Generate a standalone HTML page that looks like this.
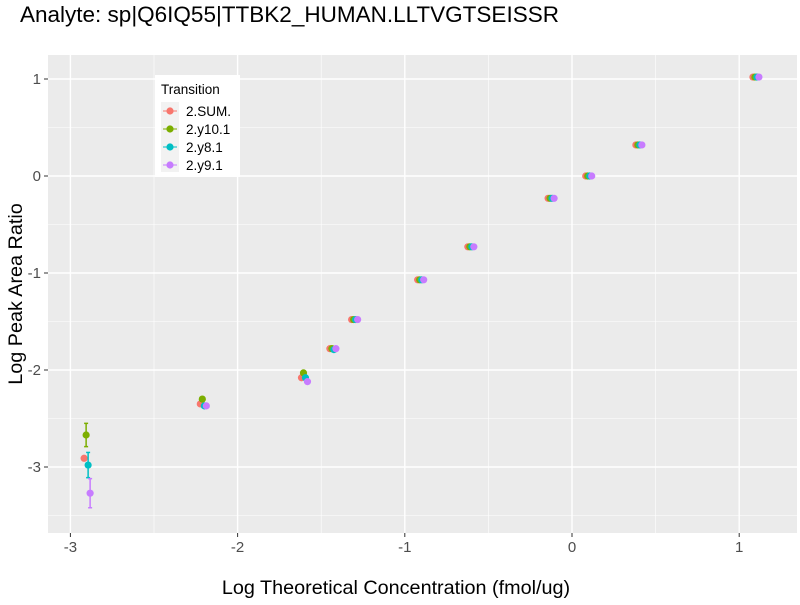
<!DOCTYPE html>
<html><head><meta charset="utf-8"><style>
body{margin:0;background:#fff;font-family:"Liberation Sans",sans-serif}
svg text{font-family:"Liberation Sans",sans-serif}
</style></head><body>
<svg id="chart" width="800" height="600" xmlns="http://www.w3.org/2000/svg">
<text x="20" y="22" font-size="22.5" fill="#000">Analyte: sp|Q6IQ55|TTBK2_HUMAN.LLTVGTSEISSR</text>
<rect x="48" y="55" width="749" height="478" fill="#EBEBEB"/>
<g id="grid"></g>
<g id="axes"></g>
<g id="marks"></g>
<text x="396" y="594" text-anchor="middle" font-size="19.8" fill="#000">Log Theoretical Concentration (fmol/ug)</text>
<text transform="translate(22,294) rotate(-90)" text-anchor="middle" font-size="19.8" fill="#000">Log Peak Area Ratio</text>
<g>
<rect x="155" y="75" width="85" height="102" fill="#fff"/>
<text x="161" y="94" font-size="13.5" fill="#000">Transition</text>
<g id="legend-entries"></g>
</g>
</svg>
<script>
const concentrations=[-2.90,-2.205,-1.60,-1.43,-1.30,-0.905,-0.605,-0.125,0.10,0.40,1.10];
const seriesNames=["2.SUM.","2.y10.1","2.y8.1","2.y9.1"];
const seriesColors=["#F8766D","#7CAE00","#00BFC4","#C77CFF"];
const sumValues=[-2.91,-2.35,-2.08,-1.78,-1.48,-1.07,-0.73,-0.23,0.0,0.32,1.02];
const y10Values=[-2.67,-2.30,-2.03,-1.78,-1.48,-1.07,-0.73,-0.23,0.0,0.32,1.02];
const y8Values=[-2.98,-2.37,-2.08,-1.79,-1.48,-1.07,-0.73,-0.23,0.0,0.32,1.02];
const y9Values=[-3.27,-2.37,-2.12,-1.78,-1.48,-1.07,-0.73,-0.23,0.0,0.32,1.02];
const sumErr=[0,0,0,0,0,0,0,0,0,0,0];
const y10Err=[0.12,0,0,0,0,0,0,0,0,0,0];
const y8Err=[0.13,0,0,0,0,0,0,0,0,0,0];
const y9Err=[0.15,0,0,0,0,0,0,0,0,0,0];
const xTicks=[-3,-2,-1,0,1];
const yTicks=[-3,-2,-1,0,1];
const NS="http://www.w3.org/2000/svg";
function xs(v){return 572+v*167.2;}
function ys(v){return 176-v*97;}
function mk(tag,at,parent){const e=document.createElementNS(NS,tag);for(const k in at)e.setAttribute(k,at[k]);parent.appendChild(e);return e;}
const grid=document.getElementById('grid'),axes=document.getElementById('axes'),marks=document.getElementById('marks');
for(let v=-3.5;v<=1.5;v+=0.5){
  const major=Number.isInteger(v);
  const gx=xs(v);
  if(gx>48&&gx<797){const l=mk('line',{x1:gx,x2:gx,y1:55,y2:533,stroke:'#fff','stroke-width':major?1.4:0.6},grid);
  
  }
  const gy=ys(v);
  if(gy>55&&gy<533){const l=mk('line',{x1:48,x2:797,y1:gy,y2:gy,stroke:'#fff','stroke-width':major?1.4:0.6},grid);
  
  }
}
xTicks.forEach(t=>{
  mk('line',{x1:xs(t),x2:xs(t),y1:533,y2:537,stroke:'#333','stroke-width':1},axes);
  const tx=mk('text',{x:xs(t),y:552,'text-anchor':'middle','font-size':15,fill:'#4D4D4D'},axes);tx.textContent=t;
  
  
});
yTicks.forEach(t=>{
  mk('line',{x1:44,x2:48,y1:ys(t),y2:ys(t),stroke:'#333','stroke-width':1},axes);
  const tx=mk('text',{x:41,y:ys(t)+5,'text-anchor':'end','font-size':15,fill:'#4D4D4D'},axes);tx.textContent=t;
  
  
});
const allVals=[sumValues,y10Values,y8Values,y9Values];
const allErr=[sumErr,y10Err,y8Err,y9Err];
const dodge=[-3,-1,1,3];
allVals.forEach((vals,s)=>{
  vals.forEach((v,i)=>{
    const cx=xs(concentrations[i])+dodge[s];
    const e=allErr[s][i];
    if(e>0){
      const g=mk('g',{stroke:seriesColors[s],'stroke-width':1.5},marks);
      
      
      mk('line',{x1:cx,x2:cx,y1:ys(v+e),y2:ys(v-e)},g);
      mk('line',{x1:cx-2,x2:cx+2,y1:ys(v+e),y2:ys(v+e)},g);
      mk('line',{x1:cx-2,x2:cx+2,y1:ys(v-e),y2:ys(v-e)},g);
    }
    const c=mk('circle',{cx:cx,cy:ys(v),r:3.6,fill:seriesColors[s]},marks);
    
    
  });
});
const le=document.getElementById('legend-entries');
mk('rect',{x:161,y:102,width:18,height:70,fill:'#F2F2F2'},le);
seriesNames.forEach((n,s)=>{
  const y=111+s*18;
  const g=mk('g',{},le);
  
  
  mk('line',{x1:163,x2:177,y1:y,y2:y,stroke:seriesColors[s],'stroke-width':1},g);
  mk('circle',{cx:170,cy:y,r:3.6,fill:seriesColors[s]},g);
  const t=mk('text',{x:186,y:y+5,'font-size':13.5,fill:'#000'},g);t.textContent=n;
});
</script>
</body></html>
